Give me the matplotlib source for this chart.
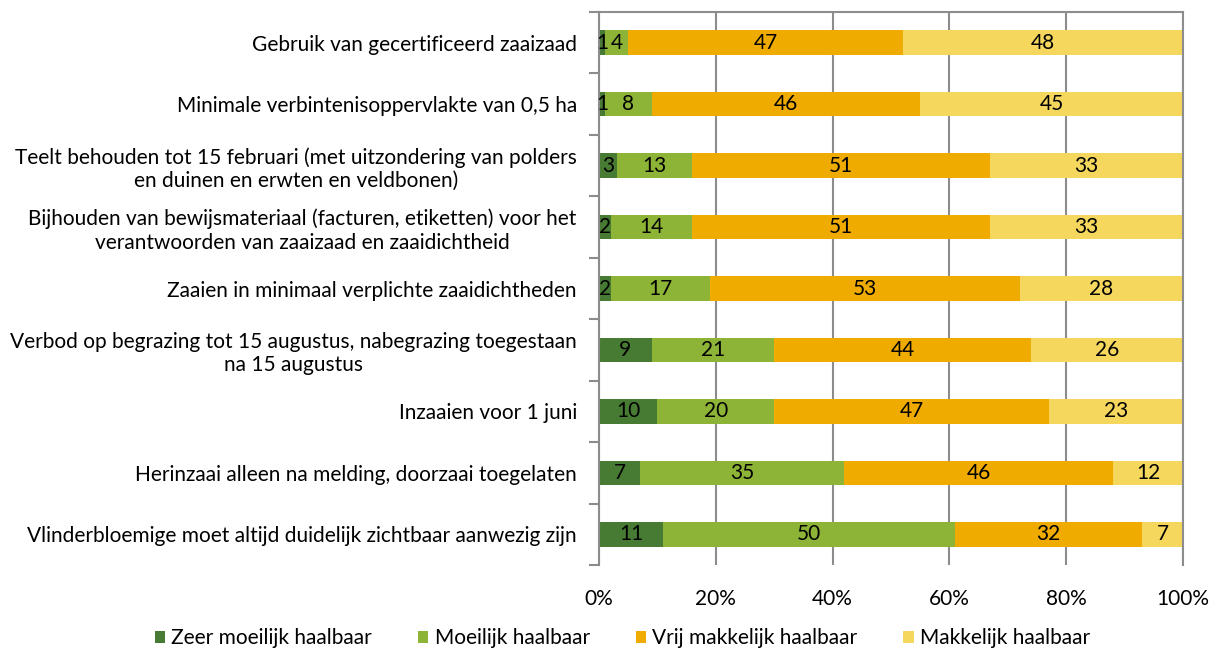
import numpy as np
import matplotlib
matplotlib.use("Agg")
import matplotlib.pyplot as plt

plt.rcParams['font.family'] = ['Lato', 'DejaVu Sans']

categories = [
    "Gebruik van gecertificeerd zaaizaad",
    "Minimale verbintenisoppervlakte van 0,5 ha",
    "Teelt behouden tot 15 februari (met uitzondering van polders\nen duinen en erwten en veldbonen)",
    "Bijhouden van bewijsmateriaal (facturen, etiketten) voor het\nverantwoorden van zaaizaad en zaaidichtheid",
    "Zaaien in minimaal verplichte zaaidichtheden",
    "Verbod op begrazing tot 15 augustus, nabegrazing toegestaan\nna 15 augustus",
    "Inzaaien voor 1 juni",
    "Herinzaai alleen na melding, doorzaai toegelaten",
    "Vlinderbloemige moet altijd duidelijk zichtbaar aanwezig zijn",
]
zeer_moeilijk = [1, 1, 3, 2, 2, 9, 10, 7, 11]
moeilijk = [4, 8, 13, 14, 17, 21, 20, 35, 50]
vrij_makkelijk = [47, 46, 51, 51, 53, 44, 47, 46, 32]
makkelijk = [48, 45, 33, 33, 28, 26, 23, 12, 7]

series_names = ["Zeer moeilijk haalbaar", "Moeilijk haalbaar",
                "Vrij makkelijk haalbaar", "Makkelijk haalbaar"]
colors = ['#477B33', '#8DB437', '#F0AB00', '#F5D75D']

series = [zeer_moeilijk, moeilijk, vrij_makkelijk, makkelijk]
data = np.array(series, dtype=float)
data = data / data.sum(axis=0) * 100

fs = 15

fig = plt.figure(figsize=(12.16, 6.52), dpi=100)
ax = fig.add_axes([0.4926, 0.1334, 0.9729 - 0.4926, 0.9816 - 0.1334])

y = np.arange(len(categories))
left = np.zeros(len(categories))
for vals, raw, name, c in zip(data, series, series_names, colors):
    ax.barh(y, vals, left=left, height=0.4, color=c, label=name, zorder=2)
    for yi, l, v, r in zip(y, left, vals, raw):
        ax.text(l + v / 2, yi, str(r), ha='center', va='center',
                fontsize=fs, color='black', zorder=3)
    left += vals

ax.set_xlim(0, 100)
ax.set_ylim(len(categories) - 0.5, -0.5)
ax.set_xticks(np.arange(0, 101, 20))
ax.set_xticklabels([f"{v}%" for v in range(0, 101, 20)], fontsize=fs)
ax.tick_params(axis='x', length=0, pad=17)

ax.set_yticks(y)
ax.set_yticklabels(categories, fontsize=fs, multialignment='center')
ax.tick_params(axis='y', which='major', length=0, pad=16)
ax.set_yticks(np.arange(-0.5, len(categories), 1), minor=True)
ax.tick_params(axis='y', which='minor', length=7, color='#8c8c8c', width=1.5, direction='out')

ax.grid(axis='x', color='#8c8c8c', linewidth=1.5, zorder=1)
for side in ['left', 'top', 'right']:
    ax.spines[side].set_color('#8c8c8c')
    ax.spines[side].set_linewidth(1.5)
ax.spines['bottom'].set_visible(False)

ax.legend(loc='center', bbox_to_anchor=(0.04, -0.132), ncol=4, frameon=False,
          fontsize=fs, handlelength=0.5, handleheight=0.5, columnspacing=2.2,
          handletextpad=0.3)

fig.savefig("out.png", dpi=100)
